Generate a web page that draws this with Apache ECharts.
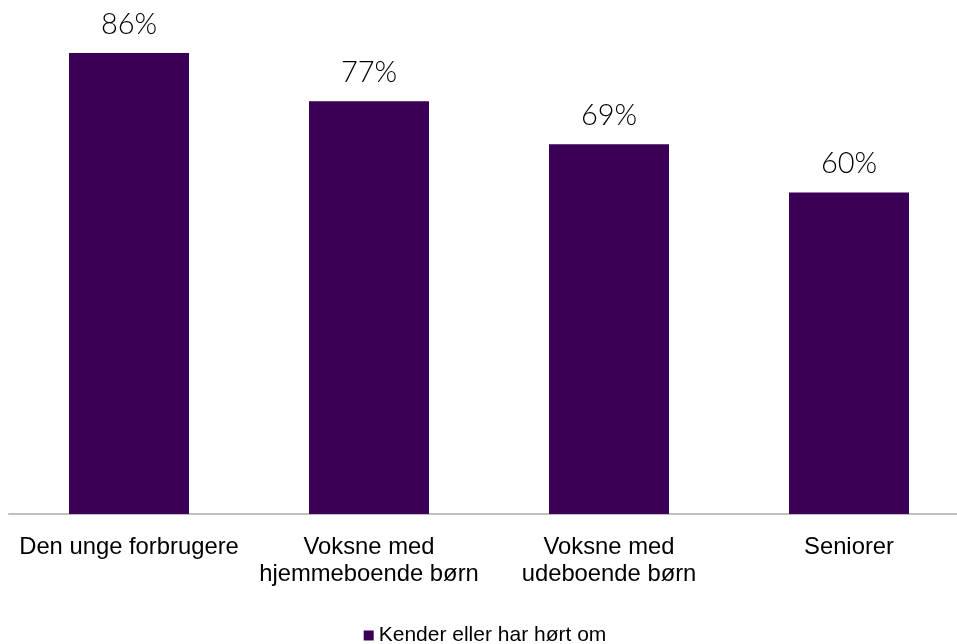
<!DOCTYPE html>
<html><head><meta charset="utf-8">
<script src="https://cdn.jsdelivr.net/npm/echarts@6/dist/echarts.min.js"></script>
<style>html,body{margin:0;padding:0;background:#fff;overflow:hidden}#wrap{width:957px;height:644px;overflow:hidden}#c{width:970px;height:644px}</style>
</head><body><div id="wrap"><div id="c"></div></div>
<script>
const categories = ["Den unge forbrugere", "Voksne med\nhjemmeboende børn", "Voksne med\nudeboende børn", "Seniorer"];
const values = [86, 77, 69, 60];
const seriesName = "Kender eller har hørt om";

const chart = echarts.init(document.getElementById('c'));
chart.setOption({
  animation: false,
  grid: {left: 9, right: 1, top: 31.6, bottom: 130, containLabel: false},
  legend: {
    top: 620, left: 'center', itemWidth: 10, itemHeight: 10, itemGap: 4,
    icon: 'rect',
    textStyle: {fontFamily: 'Liberation Sans', fontSize: 21, color: '#000'},
    data: [seriesName]
  },
  xAxis: {
    type: 'category', data: categories,
    axisLine: {lineStyle: {color: '#bfbfbf', width: 2}},
    axisTick: {show: false},
    axisLabel: {fontFamily: 'Liberation Sans', fontSize: 23.8, color: '#000', lineHeight: 27, margin: 20, interval: 0}
  },
  yAxis: {type: 'value', min: 0, max: 90, show: false, splitLine: {show: false}},
  series: [{
    name: seriesName, type: 'bar', data: values, barWidth: 120,
    itemStyle: {color: '#3a0055'},
    label: {show: true, position: 'top', distance: 14, formatter: '{c}%',
      fontFamily: 'Lato', fontWeight: 300, fontSize: 29, color: '#000'}
  }]
});
</script></body></html>
